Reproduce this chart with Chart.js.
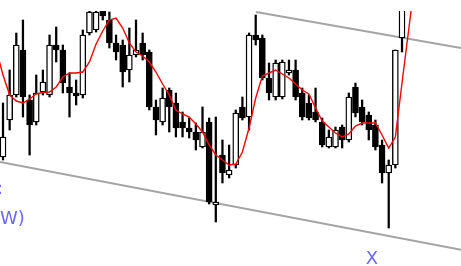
<!DOCTYPE html>
<html>
<head>
<meta charset="utf-8">
<script src="https://cdn.jsdelivr.net/npm/chart.js@4.4.1/dist/chart.umd.min.js"></script>
<style>
html,body{margin:0;padding:0;background:#fff;overflow:hidden;}
#wrap{width:461px;height:266px;position:relative;}
</style>
</head>
<body>
<div id="wrap"><canvas id="c" width="461" height="266"></canvas></div>
<script>
// candle index positions (bar number)
const candleIndex = Array.from({length: 61}, (_, i) => i);
const openV  = [109,146,171,216,166,144,174,171,221,216,179,173,171,233,236,256,246,223,221,196,211,223,214,159,144,176,163,144,138,134,119,144,61,111,91,101,159,149,231,228,188,169,169,193,196,173,163,154,144,119,119,139,126,179,159,151,141,121,93,101,228];
const highV  = [163,196,233,246,171,191,196,231,239,221,193,186,236,261,261,261,254,231,226,238,246,233,216,166,178,178,173,154,148,143,159,148,149,126,121,156,169,233,251,231,203,206,206,206,206,178,171,178,148,136,139,141,173,183,166,154,146,126,106,216,266];
const lowV   = [106,136,169,149,111,141,171,169,204,173,149,161,168,231,234,246,218,206,179,184,209,206,156,131,141,134,129,129,128,116,118,62,44,83,88,98,146,136,221,186,166,166,167,191,166,146,146,144,119,118,118,118,124,149,141,126,116,83,38,98,214];
const closeV = [129,171,221,169,141,173,184,221,216,183,173,170,231,254,254,250,223,214,194,211,216,211,159,146,168,159,138,138,134,126,134,64,64,93,96,153,148,231,226,188,173,203,204,196,169,149,148,146,121,129,136,126,169,153,144,136,119,93,101,216,286];
// moving average (read at each bar, starting one bar before the first visible candle)
const maIndex = Array.from({length: 64}, (_, i) => i - 1);
const maV = [216,191,171,165,163,167,172,173.5,174,179,189,193,193,194,204,222,235,246,248,238,223,214,210,204,194,182,171,156,152,149,142,134,121,111,106,101,102,114,138,168,190,193,196,192,188,182,176,172,158,145,139,133,129,132,140,143,143,143,131,118,129,183,236,289];
// channel lines (two anchor points each)
const lowerChannelX = [-0.451, 68.87];
const lowerChannelV = [104, 16.2];
const upperChannelX = [38.05, 68.87];
const upperChannelV = [254, 218];

const bodies = candleIndex.map(i => ({x: i, y: [openV[i], closeV[i]]}));
const wicks = candleIndex.map(i => ({x: i, y: [lowV[i], highV[i]]}));
const ma = maIndex.map((x, k) => ({x, y: maV[k]}));
const lowerCh = lowerChannelX.map((x, k) => ({x, y: lowerChannelV[k]}));
const upperCh = upperChannelX.map((x, k) => ({x, y: upperChannelV[k]}));

const labelsPlugin = {
  id: 'labels',
  afterDraw(chart) {
    const ctx = chart.ctx;
    ctx.save();
    ctx.fillStyle = '#6a6aff';
    ctx.textBaseline = 'alphabetic';
    ctx.font = '18px "DejaVu Sans", sans-serif';
    ctx.textAlign = 'center';
    ctx.fillText('X', 372, 264);
    ctx.textAlign = 'left';
    ctx.font = '18px "DejaVu Sans", sans-serif';
    ctx.fillText('(W)', -7, 224);
    ctx.fillText(':', -3, 194);
    ctx.restore();
  }
};

new Chart(document.getElementById('c'), {
  data: {
    datasets: [
      {type: 'line', data: upperCh, borderColor: '#a4a4a4', borderWidth: 2, pointRadius: 0, tension: 0, order: 5, clip: 0},
      {type: 'line', data: lowerCh, borderColor: '#a4a4a4', borderWidth: 2, pointRadius: 0, tension: 0, order: 5, clip: 0},
      {type: 'bar', data: wicks, backgroundColor: '#000', borderWidth: 0, barThickness: 1.6, grouped: false, order: 4, clip: 0},
      {type: 'bar', data: bodies, grouped: false, barThickness: 6, borderWidth: 1.4, borderColor: '#000', borderSkipped: false,
        backgroundColor: ctx => (closeV[ctx.dataIndex] >= openV[ctx.dataIndex] ? '#fff' : '#000'), order: 3, clip: 0},
      {type: 'line', data: ma, borderColor: '#ff0000', borderWidth: 1.4, pointRadius: 0, tension: 0, order: 1, clip: 0}
    ]
  },
  options: {
    responsive: false,
    animation: false,
    devicePixelRatio: 1,
    layout: {padding: {top: 11, left: 0, right: 0, bottom: 0}},
    plugins: {legend: {display: false}, tooltip: {enabled: false}},
    scales: {
      x: {type: 'linear', min: -0.451, max: 68.87, display: false, offset: false},
      y: {type: 'linear', min: 0, max: 255, display: false}
    }
  },
  plugins: [labelsPlugin]
});
</script>
</body>
</html>
